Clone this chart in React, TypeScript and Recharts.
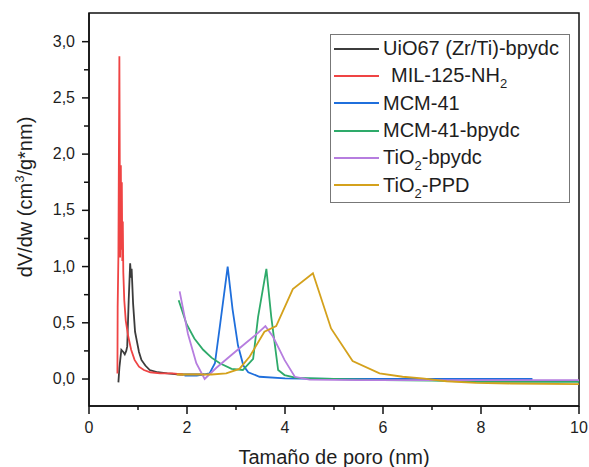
import { LineChart, Line, XAxis, YAxis, ReferenceArea } from 'recharts';

// pore size (nm), dV/dw (cm3/g*nm)
const uio67: [number, number][] = [
  [0.6, -0.03], [0.62, 0.1], [0.66, 0.26], [0.7, 0.24], [0.73, 0.22], [0.76, 0.25], [0.78, 0.29],
  [0.81, 0.7], [0.84, 1.03], [0.86, 0.9], [0.87, 0.98], [0.9, 0.67], [0.94, 0.42], [0.98, 0.33],
  [1.02, 0.24], [1.07, 0.17], [1.15, 0.12], [1.24, 0.08], [1.4, 0.06], [1.6, 0.05], [1.85, 0.04],
  [2.1, 0.04], [2.35, 0.04],
];
const mil125: [number, number][] = [
  [0.58, 0.05], [0.585, 0.64], [0.6, 1.1], [0.62, 2.87], [0.635, 1.08], [0.65, 1.9], [0.66, 1.15],
  [0.67, 1.75], [0.68, 1.05], [0.69, 1.4], [0.7, 0.95], [0.72, 0.7], [0.75, 0.52], [0.8, 0.38],
  [0.86, 0.26], [0.93, 0.17], [1.02, 0.11], [1.12, 0.08], [1.25, 0.06], [1.45, 0.05], [1.7, 0.05],
  [1.92, 0.04],
];
const mcm41: [number, number][] = [
  [1.95, 0.03], [2.2, 0.03], [2.46, 0.05], [2.57, 0.14], [2.68, 0.5], [2.83, 1.0], [2.93, 0.62],
  [3.04, 0.3], [3.15, 0.12], [3.25, 0.06], [3.48, 0.02], [4.0, 0.005], [5, 0.0], [6, 0.0], [7, 0.0],
  [8, 0.0], [9.05, 0.0],
];
const mcm41Bpydc: [number, number][] = [
  [1.83, 0.7], [1.99, 0.49], [2.15, 0.36], [2.33, 0.26], [2.5, 0.19], [2.67, 0.14], [2.91, 0.09],
  [3.14, 0.08], [3.35, 0.18], [3.45, 0.55], [3.62, 0.98], [3.72, 0.55], [3.86, 0.08], [3.99, 0.035],
  [4.23, 0.01], [5, 0.0], [6, -0.01], [7, -0.015], [8, -0.025], [9, -0.025], [10, -0.025],
];
const tio2Bpydc: [number, number][] = [
  [1.85, 0.78], [2.02, 0.4], [2.19, 0.14], [2.36, 0.0], [2.6, 0.1], [2.87, 0.2], [3.2, 0.32],
  [3.45, 0.41], [3.6, 0.47], [3.75, 0.38], [3.9, 0.25], [3.99, 0.17], [4.2, 0.02], [4.5, -0.005],
  [5.5, -0.01], [7, -0.01], [8.5, -0.01], [10, -0.01],
];
const tio2Ppd: [number, number][] = [
  [1.79, 0.04], [2.2, 0.04], [2.5, 0.04], [2.8, 0.05], [3.07, 0.09], [3.28, 0.2], [3.58, 0.42],
  [3.82, 0.47], [4.16, 0.8], [4.57, 0.94], [4.94, 0.45], [5.38, 0.16], [5.93, 0.05], [6.4, 0.02],
  [6.8, 0.005], [7.3, -0.02], [7.9, -0.035], [8.6, -0.04], [10, -0.045],
];

const xTicks = [0, 1, 2, 3, 4, 5, 6, 7, 8, 9, 10];
const yTicks = [0, 0.25, 0.5, 0.75, 1, 1.25, 1.5, 1.75, 2, 2.25, 2.5, 2.75, 3];

const series = [
  { name: 'UiO67 (Zr/Ti)-bpydc', sub: '', tail: '', points: uio67, color: '#3c3c3c', pad: 0 },
  { name: 'MIL-125-NH', sub: '2', tail: '', points: mil125, color: '#ef4444', pad: 8 },
  { name: 'MCM-41', sub: '', tail: '', points: mcm41, color: '#1f6fdc', pad: 0 },
  { name: 'MCM-41-bpydc', sub: '', tail: '', points: mcm41Bpydc, color: '#2eaa6a', pad: 0 },
  { name: 'TiO', sub: '2', tail: '-bpydc', points: tio2Bpydc, color: '#b67ddf', pad: 0 },
  { name: 'TiO', sub: '2', tail: '-PPD', points: tio2Ppd, color: '#d4a11c', pad: 0 },
];

const FONT = "'Liberation Sans', Arial, sans-serif";
const INK = '#1e1e1e';

const XTick = ({ x, y, payload }: any) => {
  const major = payload.value % 2 === 0;
  return (
    <g>
      <line x1={x} x2={x} y1={y} y2={y + (major ? 8 : 4)} stroke="#111" strokeWidth={1.5} />
      {major && (
        <text x={x} y={y + 27} textAnchor="middle" fontSize={16} fontFamily={FONT} fill={INK}>
          {payload.value}
        </text>
      )}
    </g>
  );
};

const YTick = ({ x, y, payload }: any) => {
  const major = Math.abs((payload.value * 2) % 1) < 1e-6;
  return (
    <g>
      <line x1={x - (major ? 7 : 5)} x2={x} y1={y} y2={y} stroke="#111" strokeWidth={1.5} />
      {major && (
        <text x={x - 14} y={y + 5} textAnchor="end" fontSize={16} fontFamily={FONT} fill={INK}>
          {payload.value.toFixed(1).replace('.', ',')}
        </text>
      )}
    </g>
  );
};

const YLabel = () => (
  <text
    x={32}
    y={197}
    transform="rotate(-90 32 197)"
    textAnchor="middle"
    fontSize={20}
    fontFamily={FONT}
    fill={INK}
  >
    dV/dw (cm
    <tspan fontSize={13} dy={-8}>3</tspan>
    <tspan dy={8}>/g*nm)</tspan>
  </text>
);

const XLabel = () => (
  <text x={334} y={464} textAnchor="middle" fontSize={20} fontFamily={FONT} fill={INK}>
    Tamaño de poro (nm)
  </text>
);

export default function App() {
  return (
    <div style={{ position: 'absolute', left: 0, top: 0, width: 589, height: 467, background: '#fff' }}>
      <LineChart width={589} height={467} margin={{ top: 13, right: 10, bottom: 0, left: 0 }}>
        <XAxis
          type="number"
          dataKey="x"
          domain={[0, 10]}
          ticks={xTicks}
          interval={0}
          height={61}
          tickSize={0}
          tickMargin={0}
          tick={<XTick />}
          axisLine={{ stroke: '#111', strokeWidth: 1.5 }}
          allowDataOverflow
          label={{ content: () => <XLabel /> }}
        />
        <YAxis
          type="number"
          domain={[-0.24, 3.255]}
          ticks={yTicks}
          interval={0}
          width={89}
          tickSize={0}
          tickMargin={0}
          tick={<YTick />}
          axisLine={{ stroke: '#111', strokeWidth: 1.5 }}
          allowDataOverflow
          label={{ content: () => <YLabel /> }}
        />
        <ReferenceArea
          x1={0}
          x2={10}
          y1={-0.24}
          y2={3.255}
          fill="none"
          stroke="#111"
          strokeWidth={1.5}
          ifOverflow="visible"
        />
        {series.map((s) => (
          <Line
            key={s.name + s.tail}
            data={s.points.map(([x, y]) => ({ x, y }))}
            dataKey="y"
            type="linear"
            stroke={s.color}
            strokeWidth={1.8}
            dot={false}
            activeDot={false}
            isAnimationActive={false}
          />
        ))}
      </LineChart>
      <div
        style={{
          position: 'absolute',
          left: 330,
          top: 34,
          width: 238,
          height: 167,
          border: '1px solid #777',
          background: '#fff',
          fontFamily: FONT,
          fontSize: 20,
          color: INK,
        }}
      >
        {series.map((s) => (
          <div key={s.name + s.tail} style={{ display: 'flex', alignItems: 'center', height: 27.3, whiteSpace: 'nowrap' }}>
            <div style={{ width: 45, height: 2, marginLeft: 3, marginRight: 4, background: s.color }} />
            <span style={{ paddingLeft: s.pad }}>
              {s.name}
              {s.sub && <span style={{ fontSize: 13, position: 'relative', top: 6 }}>{s.sub}</span>}
              {s.tail}
            </span>
          </div>
        ))}
      </div>
    </div>
  );
}
